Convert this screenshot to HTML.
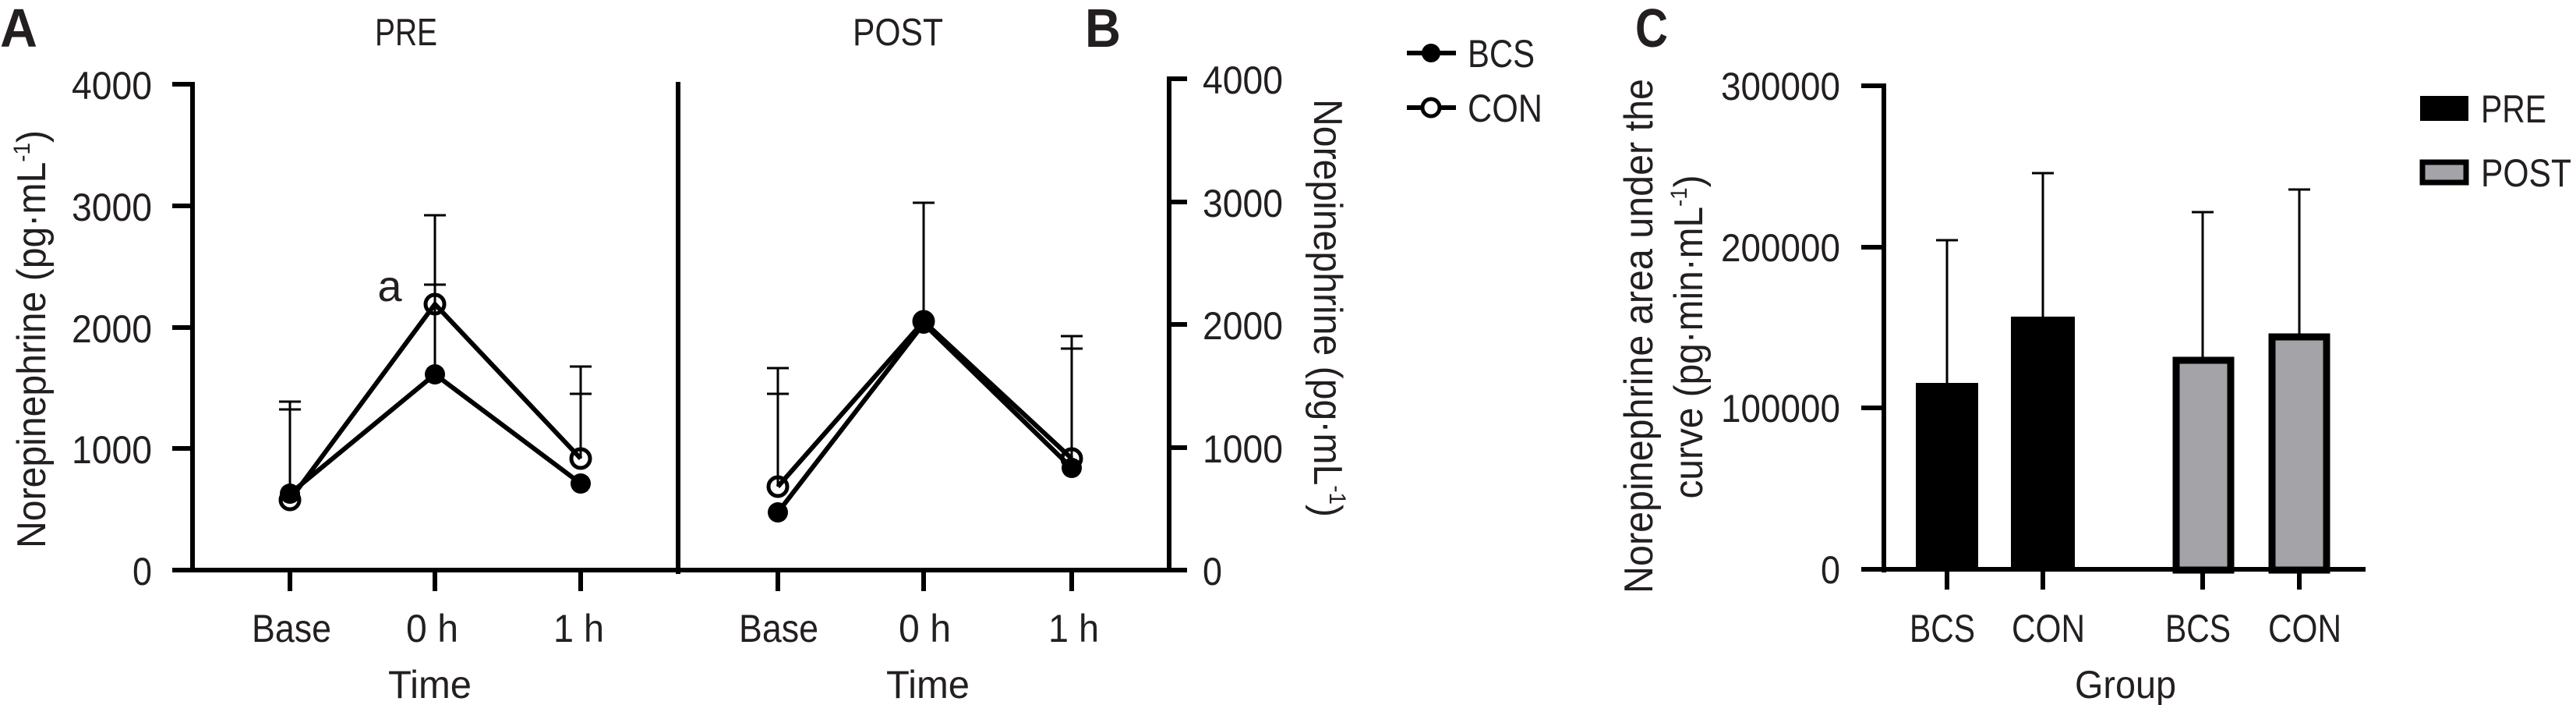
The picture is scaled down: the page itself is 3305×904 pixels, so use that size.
<!DOCTYPE html>
<html><head><meta charset="utf-8"><style>
html,body{margin:0;padding:0;background:#fff;}
svg{display:block;}
text{font-family:"Liberation Sans",sans-serif;fill:#231f20;}
</style></head><body>
<svg width="3305" height="904" viewBox="0 0 3305 904" xmlns="http://www.w3.org/2000/svg">
<!-- Panel A -->
<text x="0" y="60" font-size="70" font-weight="bold" textLength="48" lengthAdjust="spacingAndGlyphs">A</text>
<text x="481" y="58" font-size="49" textLength="80" lengthAdjust="spacingAndGlyphs">PRE</text>
<g stroke="#000" stroke-width="6" fill="none">
<line x1="247" y1="105" x2="247" y2="734"/>
<line x1="221" y1="731" x2="1500" y2="731"/>
<line x1="870" y1="105" x2="870" y2="736"/>
<line x1="221" y1="108" x2="247" y2="108"/>
<line x1="221" y1="264" x2="247" y2="264"/>
<line x1="221" y1="420" x2="247" y2="420"/>
<line x1="221" y1="575" x2="247" y2="575"/>
<line x1="372" y1="731" x2="372" y2="758"/>
<line x1="558" y1="731" x2="558" y2="758"/>
<line x1="745" y1="731" x2="745" y2="758"/>
<line x1="998" y1="731" x2="998" y2="758"/>
<line x1="1185" y1="731" x2="1185" y2="758"/>
<line x1="1375" y1="731" x2="1375" y2="758"/>
<line x1="1500" y1="98" x2="1500" y2="734"/>
<line x1="1500" y1="101" x2="1523" y2="101"/>
<line x1="1500" y1="259" x2="1523" y2="259"/>
<line x1="1500" y1="416" x2="1523" y2="416"/>
<line x1="1500" y1="574" x2="1523" y2="574"/>
<line x1="1500" y1="731" x2="1523" y2="731"/>
</g>
<g font-size="50" text-anchor="end">
<text x="195" y="127" textLength="103" lengthAdjust="spacingAndGlyphs">4000</text>
<text x="195" y="283" textLength="103" lengthAdjust="spacingAndGlyphs">3000</text>
<text x="195" y="439" textLength="103" lengthAdjust="spacingAndGlyphs">2000</text>
<text x="195" y="594" textLength="103" lengthAdjust="spacingAndGlyphs">1000</text>
<text x="195" y="750" textLength="25" lengthAdjust="spacingAndGlyphs">0</text>
</g>
<g font-size="50" text-anchor="start">
<text x="1543" y="120" textLength="103" lengthAdjust="spacingAndGlyphs">4000</text>
<text x="1543" y="278" textLength="103" lengthAdjust="spacingAndGlyphs">3000</text>
<text x="1543" y="435" textLength="103" lengthAdjust="spacingAndGlyphs">2000</text>
<text x="1543" y="593" textLength="103" lengthAdjust="spacingAndGlyphs">1000</text>
<text x="1543" y="750" textLength="25" lengthAdjust="spacingAndGlyphs">0</text>
</g>
<g font-size="50">
<text x="323" y="823" textLength="102" lengthAdjust="spacingAndGlyphs">Base</text>
<text x="521" y="823" textLength="67" lengthAdjust="spacingAndGlyphs">0 h</text>
<text x="710" y="823" textLength="65" lengthAdjust="spacingAndGlyphs">1 h</text>
<text x="948" y="823" textLength="102" lengthAdjust="spacingAndGlyphs">Base</text>
<text x="1153" y="823" textLength="67" lengthAdjust="spacingAndGlyphs">0 h</text>
<text x="1345" y="823" textLength="65" lengthAdjust="spacingAndGlyphs">1 h</text>
<text x="498" y="895" textLength="107" lengthAdjust="spacingAndGlyphs">Time</text>
<text x="1137" y="895" textLength="107" lengthAdjust="spacingAndGlyphs">Time</text>
</g>
<text transform="translate(58,435) rotate(-90)" font-size="52" text-anchor="middle" textLength="536" lengthAdjust="spacingAndGlyphs">Norepinephrine (pg·mL<tspan font-size="30" dy="-20">-1</tspan><tspan dy="20">)</tspan></text>
<text transform="translate(1686,395) rotate(90)" font-size="52" text-anchor="middle" textLength="536" lengthAdjust="spacingAndGlyphs">Norepinephrine (pg·mL<tspan font-size="30" dy="-20">-1</tspan><tspan dy="20">)</tspan></text>
<text x="500" y="386" font-size="56" text-anchor="middle">a</text>
<text x="1094" y="58" font-size="49" textLength="116" lengthAdjust="spacingAndGlyphs">POST</text>
<text x="1392" y="60" font-size="70" font-weight="bold" textLength="46" lengthAdjust="spacingAndGlyphs">B</text>
<!-- error bars -->
<g stroke="#000" stroke-width="3" fill="none">
<path d="M372 640V515M358 515H386M358 525H386"/>
<path d="M558 390V276M544 276H572M558 480V365M544 365H572"/>
<path d="M745 588V470M731 470H759M731 505H759"/>
<path d="M998 624V472M984 472H1012M984 505H1012"/>
<path d="M1185 412V260M1171 260H1199"/>
<path d="M1375 600V431M1361 431H1389M1361 447H1389"/>
</g>
<g stroke="#000" stroke-width="6" fill="none">
<polyline points="372,633 558,480 745,620"/>
<polyline points="372,641 558,390 745,588"/>
<polyline points="998,657 1185,415 1375,600"/>
<polyline points="998,624 1185,412 1375,588"/>
</g>
<g fill="#000">
<circle cx="372" cy="633" r="13"/><circle cx="558" cy="480" r="13"/><circle cx="745" cy="620" r="13"/>
<circle cx="998" cy="657" r="13"/><circle cx="1185" cy="415" r="13"/><circle cx="1375" cy="600" r="13"/>
</g>
<g fill="none" stroke="#000" stroke-width="5">
<circle cx="372" cy="641" r="12"/><circle cx="558" cy="390" r="12"/><circle cx="745" cy="588" r="12"/>
<circle cx="998" cy="624" r="12"/><circle cx="1185" cy="412" r="12"/><circle cx="1375" cy="588" r="12"/>
</g>
<!-- legend B -->
<g stroke="#000" stroke-width="6"><line x1="1805" y1="68" x2="1868" y2="68"/><line x1="1805" y1="138" x2="1868" y2="138"/></g>
<circle cx="1836" cy="68" r="12" fill="#000"/>
<circle cx="1836" cy="138" r="11" fill="#fff" stroke="#000" stroke-width="5"/>
<text x="1883" y="86" font-size="50" textLength="86" lengthAdjust="spacingAndGlyphs">BCS</text>
<text x="1883" y="156" font-size="50" textLength="96" lengthAdjust="spacingAndGlyphs">CON</text>
<!-- Panel C -->
<text x="2098" y="60" font-size="70" font-weight="bold" textLength="42" lengthAdjust="spacingAndGlyphs">C</text>
<g stroke="#000" stroke-width="3" fill="none">
<path d="M2498 491V308M2484 308H2512"/>
<path d="M2621 406V222M2607 222H2635"/>
<path d="M2826 458V272M2812 272H2840"/>
<path d="M2950 428V243M2936 243H2964"/>
</g>
<rect x="2458" y="491" width="80" height="240" fill="#000"/>
<rect x="2580" y="406" width="82" height="325" fill="#000"/>
<rect x="2792" y="462" width="70" height="269" fill="#a3a3a8" stroke="#000" stroke-width="9"/>
<rect x="2915" y="432" width="70" height="299" fill="#a3a3a8" stroke="#000" stroke-width="9"/>
<g stroke="#000" stroke-width="6" fill="none">
<line x1="2417" y1="107" x2="2417" y2="734"/>
<line x1="2388" y1="730" x2="3035" y2="730"/>
<line x1="2388" y1="110" x2="2417" y2="110"/>
<line x1="2388" y1="317" x2="2417" y2="317"/>
<line x1="2388" y1="523" x2="2417" y2="523"/>
<line x1="2498" y1="730" x2="2498" y2="756"/>
<line x1="2621" y1="730" x2="2621" y2="756"/>
<line x1="2826" y1="730" x2="2826" y2="756"/>
<line x1="2950" y1="730" x2="2950" y2="756"/>
</g>
<g font-size="50" text-anchor="end">
<text x="2361" y="128" textLength="153" lengthAdjust="spacingAndGlyphs">300000</text>
<text x="2361" y="335" textLength="153" lengthAdjust="spacingAndGlyphs">200000</text>
<text x="2361" y="541" textLength="153" lengthAdjust="spacingAndGlyphs">100000</text>
<text x="2361" y="748" textLength="25" lengthAdjust="spacingAndGlyphs">0</text>
</g>
<g font-size="50">
<text x="2450" y="823" textLength="84" lengthAdjust="spacingAndGlyphs">BCS</text>
<text x="2581" y="823" textLength="94" lengthAdjust="spacingAndGlyphs">CON</text>
<text x="2778" y="823" textLength="84" lengthAdjust="spacingAndGlyphs">BCS</text>
<text x="2910" y="823" textLength="94" lengthAdjust="spacingAndGlyphs">CON</text>
<text x="2662" y="895" textLength="130" lengthAdjust="spacingAndGlyphs">Group</text>
</g>
<text transform="translate(2120,431) rotate(-90)" font-size="52" text-anchor="middle" textLength="660" lengthAdjust="spacingAndGlyphs">Norepinephrine area under the</text>
<text transform="translate(2184,432) rotate(-90)" font-size="52" text-anchor="middle" textLength="415" lengthAdjust="spacingAndGlyphs">curve (pg·min·mL<tspan font-size="30" dy="-20">-1</tspan><tspan dy="20">)</tspan></text>
<rect x="3105" y="123" width="62" height="32" fill="#000"/>
<rect x="3108" y="208" width="56" height="26" fill="#a3a3a8" stroke="#000" stroke-width="7"/>
<text x="3183" y="157" font-size="50" textLength="84" lengthAdjust="spacingAndGlyphs">PRE</text>
<text x="3183" y="239" font-size="50" textLength="116" lengthAdjust="spacingAndGlyphs">POST</text>
</svg>
</body></html>
